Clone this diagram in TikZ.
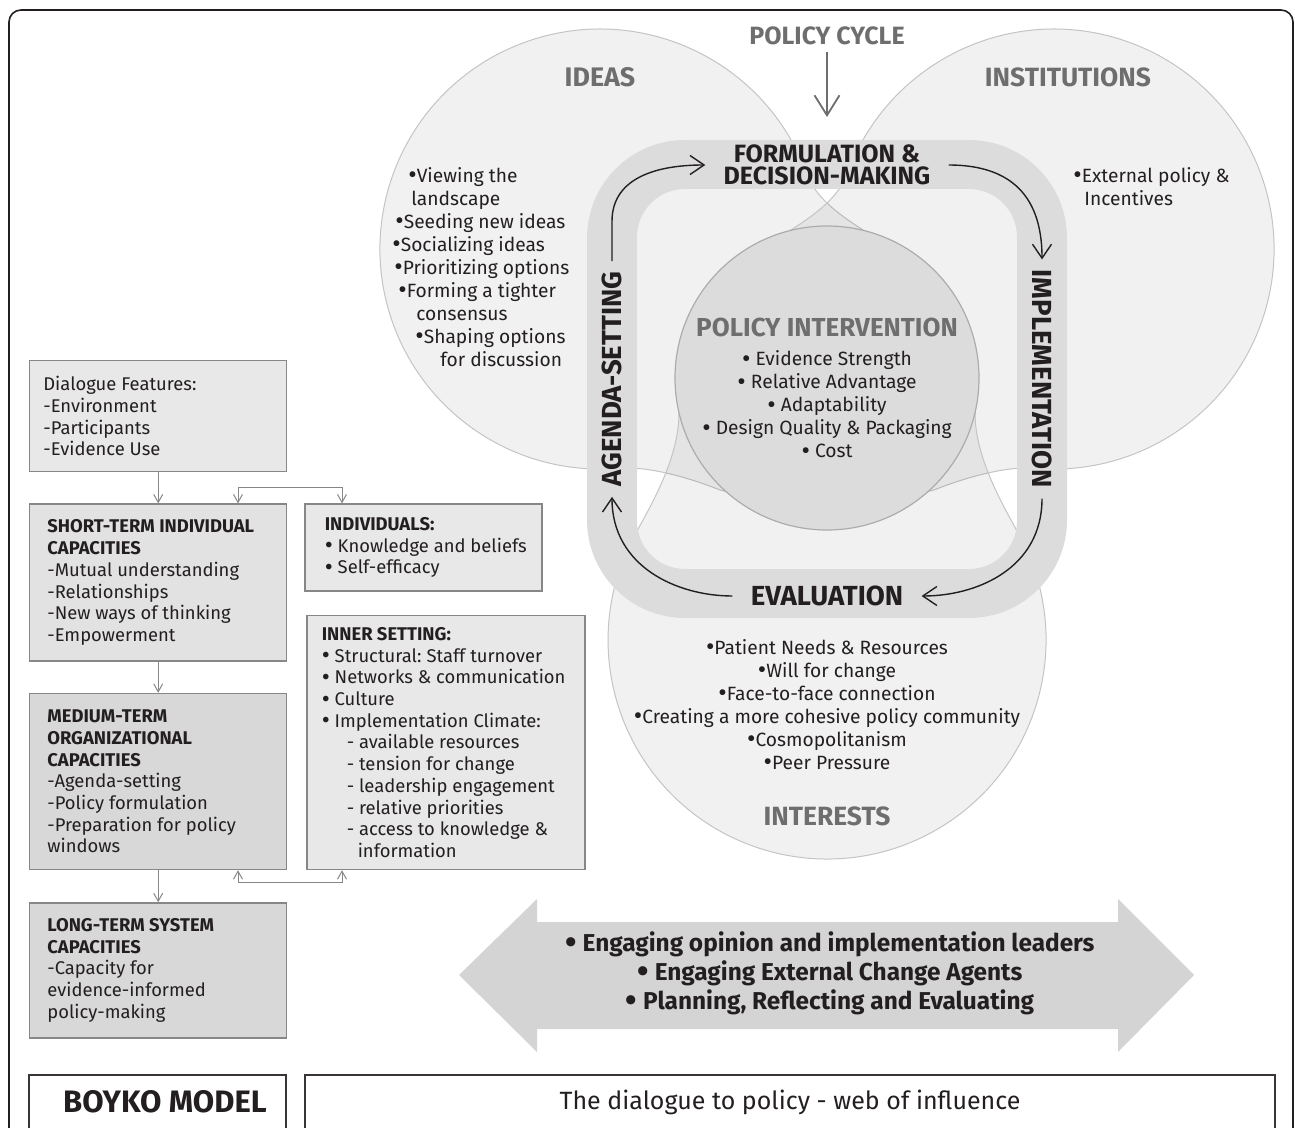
\documentclass[tikz,border=0pt]{standalone}
\usepackage{fontspec}
\usepackage{graphicx}
\setmainfont{Fira Sans}
\usetikzlibrary{arrows.meta,positioning}
\frenchspacing

\definecolor{ink}{HTML}{231F20}
\definecolor{labelgrey}{HTML}{6E6E6E}
\definecolor{ringgrey}{HTML}{DCDCDC}
\definecolor{rimgrey}{HTML}{C4C4C4}
\definecolor{linegrey}{HTML}{878787}
\definecolor{paleboxgrey}{HTML}{E8E8E8}
\definecolor{midboxgrey}{HTML}{E2E2E2}
\definecolor{darkboxgrey}{HTML}{D8D8D8}
\definecolor{blockgrey}{HTML}{D4D4D4}

% a rounder, larger bullet than the font's own
\newcommand{\blt}{\raisebox{-0.08em}{\scalebox{1.35}{•}}}

\begin{document}
\begin{tikzpicture}[x=0.5pt, y=-0.5pt, >={Straight Barb[length=4pt,width=4.5pt]},
  every node/.style={text=ink, font=\fontsize{9.6}{11.5}\selectfont},
  drop/.style={fill=black, fill opacity=0.055, draw=rimgrey, line width=0.5pt},
  headlabel/.style={text=labelgrey, font=\bfseries\fontsize{#1}{14}\selectfont},
  stage/.style={font=\bfseries\fontsize{#1}{11}\selectfont, inner xsep=9pt, inner ysep=2pt},
  cyclearrow/.style={ink, line width=0.7pt, -{Straight Barb[length=7pt,width=9.5pt]}},
  box/.style={draw=linegrey, line width=0.7pt, inner sep=0pt, minimum width=128.5pt},
  boxtext/.style={align=left, inner sep=0pt, font=\fontsize{9.2}{10.85}\selectfont},
  flow/.style={linegrey, line width=0.5pt}]

\useasboundingbox (0,0) rectangle (1295,1128);

% outer frame
\draw[ink, line width=0.8pt, rounded corners=6pt] (9,10) rectangle (1293,1160);

% ideas and institutions drops (the second one mirrored)
\foreach \flip/\offset in {1/0, -1/1654} {
  \begin{scope}[shift={(\offset,0)}, xscale=\flip]
    \draw[drop] (619.2,468.2) .. controls (649,466) and (690,478) .. (720,490)
      .. controls (770,505) and (880,470) .. (915,420)
      .. controls (930,330) and (900,255) .. (863,230)
      .. controls (835,212) and (815,196) .. (806.7,173.8)
      arc[start angle=-20, end angle=-275, radius=220] -- cycle;
  \end{scope}
}
% interests drop
\draw[drop] (637.3,530.5) .. controls (648,510) and (679,460) .. (679,413)
  .. controls (681,350) and (760,300) .. (827,290)
  .. controls (894,300) and (973,350) .. (975,413)
  .. controls (975,460) and (1006,510) .. (1016.7,530.5)
  arc[start angle=-30, end angle=210, radius=219] -- cycle;

% policy cycle ring
\fill[ringgrey, even odd rule, rounded corners=49pt] (587,140) rectangle (1067,618)
  [rounded corners=24pt] (637,189) rectangle (1017,569);

\node[circle, fill=ringgrey, draw=gray!65, line width=0.6pt, minimum size=152pt, inner sep=0pt] (intervention) at (827,378) {};
\node[headlabel=13] (interventiontitle) at (827,327) {POLICY INTERVENTION};
\node[align=center] (interventionlist) at (827,405) {\blt{} Evidence Strength\\\blt{} Relative Advantage\\\blt{} Adaptability\\\blt{} Design Quality \& Packaging\\\blt{} Cost};

% circle titles and contents
\node[headlabel=12.5] (policycycle) at (827,36) {POLICY CYCLE};
\coordinate (cycletip) at (827,117);
\draw[labelgrey, line width=0.9pt, -{Straight Barb[length=10pt,width=12.5pt]}] (policycycle) -- (cycletip);

\node[headlabel=13.4] (ideas) at (600,77) {IDEAS};
\node[headlabel=13.2] (institutions) at (1068,77) {INSTITUTIONS};
\node[headlabel=13.2] (interests) at (827,816) {INTERESTS};

\node[align=left, anchor=north west, inner sep=0pt] (idealist) at (392,167)
  {\hspace*{8pt}\blt Viewing the\\\hspace*{9.5pt}landscape\\\hspace*{1.5pt}\blt Seeding new ideas\\\blt Socializing ideas\\
   \hspace*{1pt}\blt Prioritizing options\\\hspace*{3pt}\blt Forming a tighter\\\hspace*{12pt}consensus\\
   \hspace*{11.5pt}\blt Shaping options\\\hspace*{24pt}for discussion};
\node[align=left, anchor=north west, inner sep=0pt] (institutionlist) at (1073,167)
  {\blt External policy \&\\\hspace*{5.5pt}Incentives};
\node[align=center] (interestlist) at (827,705)
  {\blt Patient Needs \& Resources\\\blt Will for change\\\blt Face-to-face connection\\
   \blt Creating a more cohesive policy community\\\blt Cosmopolitanism\\\blt Peer Pressure};

% stages of the cycle
\node[stage=12.5, align=center] (formulation) at (827,165) {FORMULATION \&\\DECISION-MAKING};
\node[stage=13.8, rotate=90, inner xsep=5pt] (agenda) at (612,379) {AGENDA-SETTING};
\node[stage=13.8, rotate=-90, inner xsep=5pt] (implementation) at (1042,379) {IMPLEMENTATION};
\node[stage=13.8] (evaluation) at (827,596) {EVALUATION};

\draw[cyclearrow] (agenda.east) -- ++(0,-40) .. controls +(0,-40) and +(-55,0) .. (formulation.west);
\draw[cyclearrow] (formulation.east) .. controls +(55,0) and +(0,-70) .. (implementation.west);
\draw[cyclearrow] (implementation.east) .. controls +(0,70) and +(55,0) .. (evaluation.east);
\draw[cyclearrow] (evaluation.west) .. controls +(-55,0) and +(0,70) .. (agenda.west);

% capacity boxes
\node[box, fill=paleboxgrey, minimum height=55.5pt, anchor=north west] (dialogue) at (29,360) {};
\node[box, fill=midboxgrey, minimum height=78.5pt, below=15.5pt of dialogue] (shortterm) {};
\node[box, fill=darkboxgrey, minimum height=88pt, below=15.5pt of shortterm] (mediumterm) {};
\node[box, fill=darkboxgrey, minimum height=67.5pt, below=16pt of mediumterm] (longterm) {};
\node[box, fill=paleboxgrey, minimum width=118.5pt, minimum height=43.5pt,
  right=8.5pt of shortterm.north east, anchor=north west] (individuals) {};
\node[box, fill=paleboxgrey, minimum width=139pt, minimum height=127pt,
  below=11.5pt of individuals.south west, anchor=north west, xshift=1pt] (innersetting) {};

\node[boxtext, right=7pt of dialogue.west] (dialoguetext)
  {Dialogue Features:\\-Environment\\-Participants\\-Evidence Use};
\node[boxtext, right=9pt of shortterm.west] (shorttermtext)
  {\textbf{SHORT-TERM INDIVIDUAL}\\\textbf{CAPACITIES}\\-Mutual understanding\\-Relationships\\-New ways of thinking\\-Empowerment};
\node[boxtext, right=9pt of mediumterm.west] (mediumtermtext)
  {\textbf{MEDIUM-TERM}\\\textbf{ORGANIZATIONAL}\\\textbf{CAPACITIES}\\-Agenda-setting\\-Policy formulation\\-Preparation for policy\\windows};
\node[boxtext, right=9pt of longterm.west] (longtermtext)
  {\textbf{LONG-TERM SYSTEM}\\\textbf{CAPACITIES}\\-Capacity for\\evidence-informed\\policy-making};
\node[boxtext, right=10pt of individuals.west] (individualstext)
  {\textbf{INDIVIDUALS:}\\\blt{} Knowledge and beliefs\\\blt{} Self-efficacy};
\node[boxtext, right=7.5pt of innersetting.west] (innersettingtext)
  {\textbf{INNER SETTING:}\\\blt{} Structural: Staff turnover\\\blt{} Networks \& communication\\\blt{} Culture\\\blt{} Implementation Climate:\\
   \hspace*{12.5pt}- available resources\\\hspace*{12.5pt}- tension for change\\\hspace*{12.5pt}- leadership engagement\\
   \hspace*{12.5pt}- relative priorities\\\hspace*{12.5pt}- access to knowledge \&\\\hspace*{18pt}information};

\draw[flow,->] (dialogue) -- (shortterm);
\draw[flow,->] (shortterm) -- (mediumterm);
\draw[flow,->] (mediumterm) -- (longterm);
\coordinate (upperleft) at (238,487);
\coordinate (upperright) at (342,487);
\coordinate (lowerleft) at (238,882);
\coordinate (lowerright) at (342,882);
\draw[flow,<->] (shortterm.north -| upperleft) -- (upperleft) -- (upperright) -- (individuals.north -| upperright);
\draw[flow,<->] (mediumterm.south -| lowerleft) -- (lowerleft) -- (lowerright) -- (innersetting.south -| lowerright);

% strategies arrow
\fill[blockgrey] (459,975) -- (537,899) -- (537,922) -- (1118,922) -- (1118,899) -- (1194,975)
  -- (1118,1052) -- (1118,1029) -- (537,1029) -- (537,1052) -- cycle;
\node[align=center, font=\bfseries\fontsize{12.2}{14.5}\selectfont] (strategies) at (830,973)
  {\blt{} Engaging opinion and implementation leaders\\\blt{} Engaging External Change Agents\\\blt{} Planning, Reflecting and Evaluating};

% captions
\draw[ink!90, line width=1pt] (29,1075) rectangle (286,1160);
\draw[ink!90, line width=1pt] (305,1075) rectangle (1275,1160);
\node[font=\bfseries\fontsize{15.5}{17}\selectfont] (modelname) at (165,1102) {BOYKO MODEL};
\node[font=\fontsize{12.5}{14}\selectfont] (caption) at (790,1102) {The dialogue to policy - web of influence};

\end{tikzpicture}
\end{document}
